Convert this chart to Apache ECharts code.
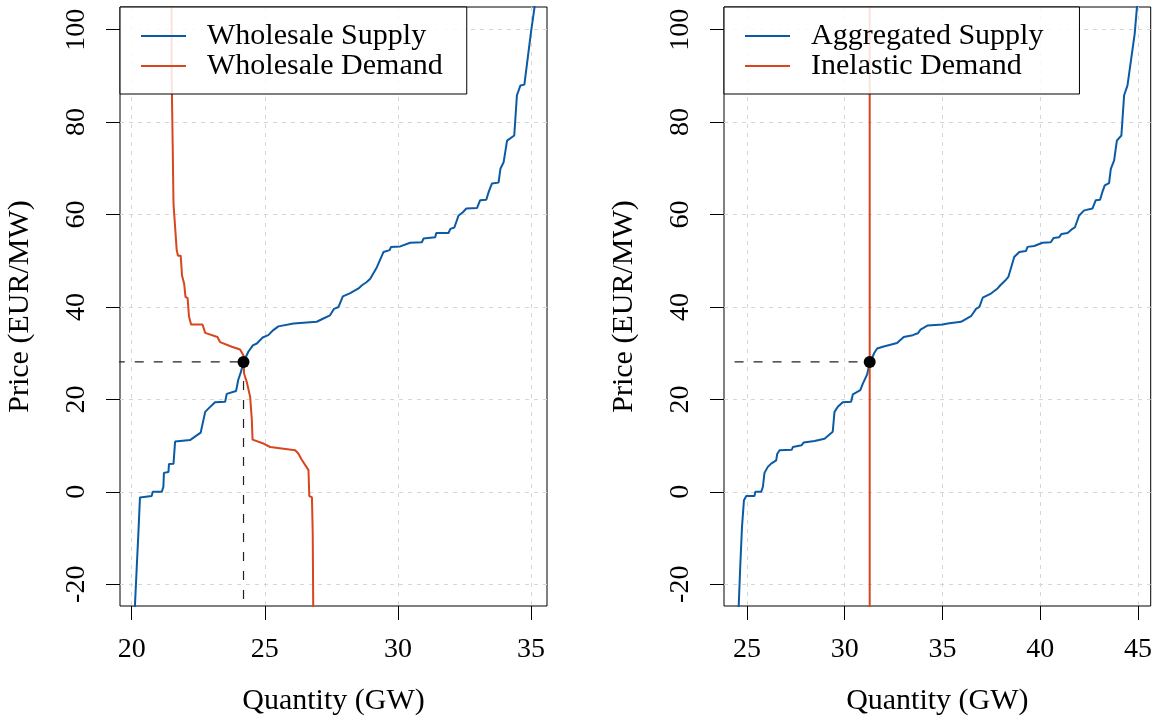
<!DOCTYPE html>
<html>
<head>
<meta charset="utf-8">
<script src="https://cdn.jsdelivr.net/npm/echarts@6/dist/echarts.min.js"></script>
<style>
  html, body { margin: 0; padding: 0; background: #fff; }
  #chart { width: 1155px; height: 726px; }
</style>
</head>
<body>
<div id="chart"></div>
<script>
// Left panel: wholesale supply / demand curves (quantity GW, price EUR/MW)
const wsSupplyQ = [20.11, 20.19, 20.25, 20.31, 20.75, 20.79, 21.13, 21.19, 21.21, 21.38, 21.40, 21.57, 21.63, 22.19, 22.59, 22.76, 22.88, 23.13, 23.51, 23.57, 23.92, 24.00, 24.10, 24.20, 24.38, 24.55, 24.70, 24.92, 25.13, 25.32, 25.51, 26.08, 26.95, 27.20, 27.45, 27.60, 27.77, 27.93, 28.21, 28.52, 28.65, 28.83, 28.96, 29.21, 29.46, 29.69, 29.74, 30.09, 30.46, 30.90, 30.96, 31.40, 31.44, 31.90, 31.97, 32.12, 32.28, 32.44, 32.57, 32.97, 33.09, 33.32, 33.41, 33.53, 33.78, 33.85, 33.97, 34.10, 34.37, 34.47, 34.60, 34.75, 35.00, 35.16]
const wsSupplyP = [-26, -16.2, -9.0, -1.2, -0.9, 0, 0, 1.1, 4.1, 4.3, 6.0, 6.1, 10.9, 11.2, 12.8, 17.3, 18.0, 19.4, 19.5, 21.2, 21.8, 24.2, 25.9, 28.1, 30.3, 31.7, 32.1, 33.4, 33.9, 35.0, 35.8, 36.4, 36.8, 37.5, 38.2, 39.6, 40.0, 42.3, 43.0, 44.0, 44.7, 45.4, 46.1, 48.6, 51.9, 52.3, 53.0, 53.1, 53.9, 54.0, 54.8, 55.1, 56.0, 56.0, 56.9, 57.2, 59.8, 60.5, 61.3, 61.4, 63.1, 63.2, 64.9, 66.7, 66.9, 69.9, 71.3, 76.0, 77.1, 85.8, 87.9, 88.1, 99.5, 106]

const wsDemandQ = [21.50, 21.50, 21.54, 21.57, 21.69, 21.74, 21.84, 21.89, 21.97, 22.02, 22.10, 22.15, 22.23, 22.66, 22.76, 22.82, 23.22, 23.32, 23.76, 24.07, 24.20, 24.22, 24.32, 24.45, 24.51, 24.54, 24.97, 25.20, 26.14, 26.26, 26.37, 26.64, 26.67, 26.77, 26.80, 26.82]
const wsDemandP = [110, 90, 74.6, 62.3, 52.3, 51.1, 51.1, 46.8, 45.0, 42.2, 41.9, 38.0, 36.2, 36.2, 34.4, 34.0, 33.5, 32.4, 31.4, 30.8, 29.5, 25.6, 23.8, 20.5, 15.8, 11.3, 10.4, 9.7, 9.0, 8.3, 7.1, 4.7, -0.9, -1.2, -9.0, -26]

// Right panel: aggregated supply vs. inelastic demand
const aggSupplyQ = [24.57, 24.66, 24.75, 24.85, 24.97, 25.39, 25.43, 25.73, 25.82, 25.90, 26.07, 26.24, 26.50, 26.55, 26.67, 27.30, 27.35, 27.80, 27.91, 28.46, 28.97, 29.39, 29.48, 29.65, 29.90, 30.33, 30.42, 30.80, 30.93, 31.15, 31.27, 31.52, 31.66, 31.95, 32.03, 32.68, 33.02, 33.48, 33.74, 33.88, 34.25, 35.01, 35.27, 35.95, 36.46, 36.72, 36.89, 37.06, 37.48, 37.82, 37.96, 38.25, 38.37, 38.67, 38.93, 39.27, 39.35, 39.69, 40.12, 40.54, 40.68, 40.97, 41.09, 41.40, 41.65, 41.77, 41.99, 42.25, 42.67, 42.84, 43.06, 43.18, 43.30, 43.52, 43.61, 43.78, 43.92, 44.15, 44.29, 44.46, 44.54, 44.83, 44.97]
const aggSupplyP = [-26, -16.2, -7.6, -1.8, -0.9, -0.9, 0, 0, 1.1, 4.1, 5.4, 6.1, 6.8, 8.2, 9.0, 9.1, 9.7, 10.1, 10.7, 11.0, 11.5, 13.0, 17.3, 18.4, 19.4, 19.5, 21.1, 22.0, 23.4, 25.4, 27.8, 30.1, 31.0, 31.4, 31.7, 32.2, 33.5, 33.9, 34.3, 35.1, 36.0, 36.2, 36.4, 36.8, 38.0, 39.6, 40.0, 42.0, 42.9, 44.0, 44.7, 45.9, 46.5, 50.8, 51.9, 52.1, 53.0, 53.2, 53.9, 54.0, 54.9, 55.1, 55.8, 56.0, 56.9, 57.2, 59.8, 60.9, 61.3, 63.1, 63.2, 64.9, 66.3, 66.8, 69.9, 71.7, 76.0, 77.1, 85.8, 87.9, 88.3, 99.1, 106]

const inelasticQ = 31.28
const eqLeft = [24.2, 28.1]
const eqRight = [31.28, 28.1]

const priceTicks = [-20, 0, 20, 40, 60, 80, 100]
const qtyTicksLeft = [20, 25, 30, 35]
const qtyTicksRight = [25, 30, 35, 40, 45]

const BLUE = '#0b5aa6'
const RED = '#d7461d'
const FONT = 'Liberation Serif'

const zip = (xs, ys) => xs.map((x, i) => [x, ys[i]])

function xAxisFor(gridIndex, min, max, ticks) {
  return {
    type: 'value', gridIndex, min, max,
    name: 'Quantity (GW)', nameLocation: 'middle', nameGap: 80,
    nameTextStyle: { color: '#000', fontSize: 30, fontFamily: FONT },
    axisLine: { show: false, onZero: false },
    axisTick: { show: true, length: 14, customValues: ticks, lineStyle: { color: '#000' } },
    axisLabel: { customValues: ticks, color: '#000', fontSize: 28, fontFamily: FONT, margin: 30 },
    splitLine: { show: true, lineStyle: { color: '#d6d6d6', type: [4, 5], width: 1 } },
  }
}

function yAxisFor(gridIndex) {
  return {
    type: 'value', gridIndex, min: -24.7, max: 104.9,
    name: 'Price (EUR/MW)', nameLocation: 'middle', nameGap: 85, nameRotate: 90,
    nameTextStyle: { color: '#000', fontSize: 30, fontFamily: FONT },
    axisLine: { show: false, onZero: false },
    axisTick: { show: true, length: 14, customValues: priceTicks, lineStyle: { color: '#000' } },
    axisLabel: { customValues: priceTicks, rotate: 90, color: '#000', fontSize: 28, fontFamily: FONT, margin: 29 },
    splitLine: { show: true, lineStyle: { color: '#d6d6d6', type: [4, 5], width: 1 } },
  }
}

function curve(name, idx, data, color) {
  return {
    name, type: 'line', xAxisIndex: idx, yAxisIndex: idx,
    data, symbol: 'none', clip: true, z: 3,
    lineStyle: { color, width: 2 }, itemStyle: { color },
    emphasis: { disabled: true },
  }
}

function dashed(idx, data) {
  return {
    type: 'line', xAxisIndex: idx, yAxisIndex: idx, data,
    symbol: 'none', clip: true, z: 2, silent: true,
    lineStyle: { color: '#222', width: 1.2, type: [9, 10] },
  }
}

function point(idx, xy) {
  return {
    type: 'scatter', xAxisIndex: idx, yAxisIndex: idx, data: [xy],
    symbolSize: 12, z: 5, itemStyle: { color: '#000', opacity: 1 }, silent: true,
  }
}

// thin rect icon = plain line key, text line height sets the row spacing
function legendFor(left, names, padRight) {
  return {
    left, top: 7, orient: 'vertical',
    data: names, icon: 'rect',
    itemWidth: 45, itemHeight: 2, itemGap: 0,
    padding: [14, padRight, 13, 21],
    borderColor: '#000', borderWidth: 1, borderRadius: 0,
    backgroundColor: 'rgba(255,255,255,0.85)',
    selectedMode: false,
    textStyle: { color: '#000', fontSize: 30, fontFamily: FONT, lineHeight: 28, padding: [0, 0, 0, 16] },
  }
}

const chart = echarts.init(document.getElementById('chart'), null, { renderer: 'canvas' })
chart.setOption({
  animation: false,
  backgroundColor: '#fff',
  grid: [
    { left: 120, top: 7, width: 427, height: 599, show: true, borderColor: '#000', borderWidth: 1, backgroundColor: 'transparent' },
    { left: 724, top: 7, width: 428, height: 599, show: true, borderColor: '#000', borderWidth: 1, backgroundColor: 'transparent' },
  ],
  legend: [
    legendFor(120, ['Wholesale Supply', 'Wholesale Demand'], 24),
    legendFor(724, ['Aggregated Supply', 'Inelastic Demand'], 36),
  ],
  xAxis: [
    xAxisFor(0, 19.56, 35.6, qtyTicksLeft),
    xAxisFor(1, 23.83, 45.65, qtyTicksRight),
  ],
  yAxis: [yAxisFor(0), yAxisFor(1)],
  series: [
    curve('Wholesale Supply', 0, zip(wsSupplyQ, wsSupplyP), BLUE),
    curve('Wholesale Demand', 0, zip(wsDemandQ, wsDemandP), RED),
    dashed(0, [[19.4, eqLeft[1]], eqLeft]),
    dashed(0, [eqLeft, [eqLeft[0], -23.5]]),
    point(0, eqLeft),
    curve('Aggregated Supply', 1, zip(aggSupplyQ, aggSupplyP), BLUE),
    curve('Inelastic Demand', 1, [[inelasticQ, -30], [inelasticQ, 110]], RED),
    dashed(1, [[24.37, eqRight[1]], eqRight]),
    point(1, eqRight),
  ],
})
</script>
</body>
</html>
